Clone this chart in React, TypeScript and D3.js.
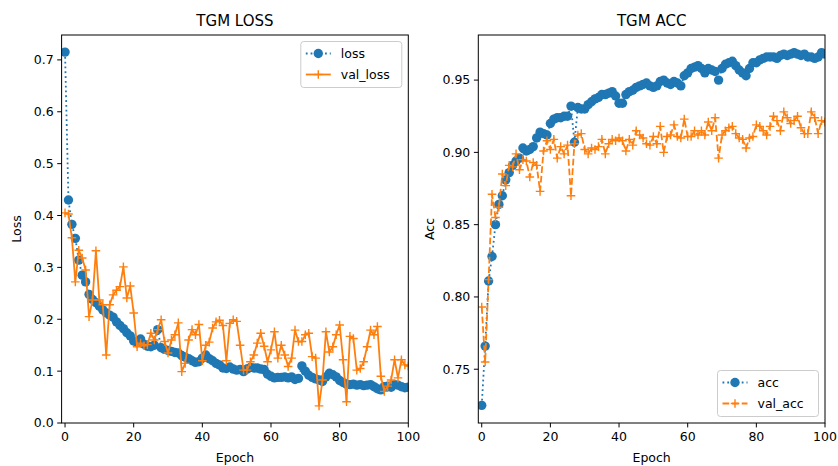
import * as d3 from 'd3';

// epochs 0..100
const epochs = d3.range(0, 101);

const loss = [
  0.715, 0.43, 0.383, 0.356, 0.314, 0.285, 0.272, 0.248, 0.238, 0.232,
  0.225, 0.218, 0.212, 0.208, 0.204, 0.195, 0.188, 0.182, 0.174, 0.168,
  0.158, 0.156, 0.162, 0.152, 0.148, 0.147, 0.150, 0.180, 0.145, 0.142,
  0.140, 0.138, 0.136, 0.135, 0.130, 0.127, 0.124, 0.120, 0.117, 0.118,
  0.125, 0.131, 0.124, 0.120, 0.115, 0.112, 0.106, 0.105, 0.108, 0.104,
  0.102, 0.103, 0.099, 0.104, 0.107, 0.106, 0.106, 0.104, 0.103, 0.094,
  0.090, 0.087, 0.088, 0.088, 0.089, 0.087, 0.089, 0.084, 0.086, 0.110,
  0.100, 0.092, 0.088, 0.085, 0.083, 0.080, 0.089, 0.096, 0.093, 0.089,
  0.082, 0.078, 0.075, 0.074, 0.075, 0.073, 0.074, 0.072, 0.073, 0.074,
  0.070, 0.066, 0.064, 0.070, 0.071, 0.069, 0.074, 0.073, 0.070, 0.068,
  0.069,
];

const valLoss = [
  0.405, 0.403, 0.357, 0.272, 0.333, 0.318, 0.295, 0.205, 0.237, 0.332,
  0.237, 0.228, 0.131, 0.228, 0.247, 0.256, 0.263, 0.301, 0.241, 0.264,
  0.212, 0.147, 0.154, 0.149, 0.151, 0.173, 0.160, 0.180, 0.199, 0.157,
  0.135, 0.160, 0.170, 0.193, 0.099, 0.115, 0.160, 0.180, 0.170, 0.190,
  0.120, 0.150, 0.156, 0.183, 0.195, 0.198, 0.188, 0.120, 0.192, 0.199,
  0.196, 0.150, 0.102, 0.102, 0.118, 0.131, 0.154, 0.173, 0.148, 0.118,
  0.141, 0.176, 0.125, 0.150, 0.131, 0.109, 0.125, 0.179, 0.157, 0.157,
  0.170, 0.173, 0.128, 0.125, 0.033, 0.083, 0.176, 0.137, 0.147, 0.170,
  0.189, 0.122, 0.041, 0.167, 0.163, 0.102, 0.105, 0.118, 0.147, 0.179,
  0.170, 0.186, 0.090, 0.061, 0.071, 0.083, 0.122, 0.087, 0.122, 0.112,
  0.110,
];

const acc = [
  0.725, 0.766, 0.811, 0.828, 0.850, 0.864, 0.870, 0.881, 0.886, 0.891,
  0.894, 0.896, 0.903, 0.901, 0.902, 0.904, 0.910, 0.914, 0.913, 0.912,
  0.920, 0.923, 0.924, 0.924, 0.925, 0.925, 0.932, 0.907, 0.931, 0.930,
  0.930, 0.933, 0.935, 0.937, 0.938, 0.940, 0.940, 0.941, 0.942, 0.939,
  0.934, 0.934, 0.940, 0.942, 0.943, 0.945, 0.946, 0.947, 0.948, 0.946,
  0.945, 0.946, 0.949, 0.950, 0.948, 0.947, 0.949, 0.948, 0.946, 0.953,
  0.955, 0.958, 0.959, 0.960, 0.958, 0.955, 0.958, 0.957, 0.956, 0.950,
  0.958, 0.961, 0.962, 0.963, 0.960, 0.957, 0.955, 0.953, 0.958, 0.962,
  0.962, 0.964, 0.965, 0.966, 0.966, 0.966, 0.965, 0.967, 0.968, 0.967,
  0.968, 0.969, 0.968, 0.967, 0.968, 0.966, 0.966, 0.965, 0.966, 0.969,
  0.968,
];

const valAcc = [
  0.793, 0.755, 0.812, 0.871, 0.855, 0.862, 0.885, 0.877, 0.891, 0.890,
  0.899, 0.888, 0.895, 0.894, 0.883, 0.893, 0.891, 0.873, 0.901, 0.908,
  0.902, 0.909, 0.896, 0.904, 0.899, 0.905, 0.870, 0.906, 0.912, 0.913,
  0.902, 0.899, 0.903, 0.902, 0.904, 0.909, 0.899, 0.906, 0.909, 0.908,
  0.910, 0.908, 0.901, 0.909, 0.905, 0.915, 0.912, 0.910, 0.906, 0.905,
  0.911, 0.906, 0.918, 0.900, 0.911, 0.912, 0.919, 0.911, 0.910, 0.923,
  0.911, 0.911, 0.915, 0.912, 0.915, 0.912, 0.921, 0.915, 0.924, 0.896,
  0.912, 0.915, 0.917, 0.918, 0.913, 0.910, 0.909, 0.903, 0.910, 0.911,
  0.919, 0.918, 0.915, 0.912, 0.918, 0.925, 0.922, 0.915, 0.928, 0.924,
  0.920, 0.922, 0.925, 0.917, 0.913, 0.913, 0.928, 0.924, 0.913, 0.922,
  0.921,
];

const epochTicks = [0, 20, 40, 60, 80, 100];
const lossTicks = [0.0, 0.1, 0.2, 0.3, 0.4, 0.5, 0.6, 0.7];
const accTicks = [0.75, 0.8, 0.85, 0.9, 0.95];

const BLUE = '#1f77b4';
const ORANGE = '#ff7f0e';
const FONT = 'DejaVu Sans, sans-serif';

const top = 35, bottom = 423;

const Marker = ({ kind, x, y, color }) => {
  if (kind === 'circle') {
    return <circle cx={x} cy={y} r={4.7} fill={color} />;
  }
  return (
    <g stroke={color} strokeWidth={1.4}>
      <line x1={x - 4.3} x2={x + 4.3} y1={y} y2={y} />
      <line x1={x} x2={x} y1={y - 4.3} y2={y + 4.3} />
    </g>
  );
};

const Panel = ({ left, right, yDomain, yTicks, fmt, title, ylabel, series, legend }) => {
  const x = d3.scaleLinear().domain([-1, 100]).range([left, right]);
  const y = d3.scaleLinear().domain(yDomain).range([bottom, top]);
  const cx = (left + right) / 2;

  // legend box
  const lw = 101, lh = 46;
  const lx = right - 6.5 - lw;
  const ly = legend === 'upper' ? top + 6.5 : bottom - 6.5 - lh;

  return (
    <g fontFamily={FONT}>
      <defs>
        <clipPath id={'clip' + left}>
          <rect x={left} y={top} width={right - left} height={bottom - top} />
        </clipPath>
      </defs>
      <text x={cx} y={top - 9} textAnchor="middle" fontSize={15}>{title}</text>

      <g clipPath={`url(#clip${left})`}>
        {series.map((s) => {
          const line = d3.line().x((d, i) => x(epochs[i])).y((d) => y(d));
          return (
            <g key={s.name}>
              <path d={line(s.values)} fill="none" stroke={s.color} strokeWidth={1.8}
                strokeDasharray={s.dash} />
              {s.values.map((v, i) => (
                <Marker key={i} kind={s.marker} x={x(epochs[i])} y={y(v)} color={s.color} />
              ))}
            </g>
          );
        })}
      </g>

      <rect x={left} y={top} width={right - left} height={bottom - top}
        fill="none" stroke="#000" strokeWidth={1} />

      {epochTicks.map((t) => (
        <g key={t} transform={`translate(${x(t)},${bottom})`}>
          <line y2={4.4} stroke="#000" />
          <text y={18} textAnchor="middle" fontSize={12.5}>{t}</text>
        </g>
      ))}
      {yTicks.map((t) => (
        <g key={t} transform={`translate(${left},${y(t)})`}>
          <line x2={-4.4} stroke="#000" />
          <text x={-8} dy="0.35em" textAnchor="end" fontSize={12.5}>{fmt(t)}</text>
        </g>
      ))}

      <text x={cx} y={bottom + 39} textAnchor="middle" fontSize={12.5}>Epoch</text>
      <text transform={`translate(${left - (ylabel === 'Loss' ? 41 : 44)},${(top + bottom) / 2}) rotate(-90)`}
        textAnchor="middle" fontSize={12.5}>{ylabel}</text>

      <g transform={`translate(${lx},${ly})`}>
        <rect width={lw} height={lh} rx={3} fill="#fff" fillOpacity={0.8} stroke="#cccccc" />
        {series.map((s, i) => {
          const yy = 12 + i * 21;
          return (
            <g key={s.name}>
              <line x1={5} x2={30} y1={yy} y2={yy} stroke={s.color} strokeWidth={1.8}
                strokeDasharray={s.dash} />
              <Marker kind={s.marker} x={17.5} y={yy} color={s.color} />
              <text x={40} y={yy} dy="0.35em" fontSize={12.5}>{s.name}</text>
            </g>
          );
        })}
      </g>
    </g>
  );
};

export default function App() {
  const f1 = d3.format('.1f');
  const f2 = d3.format('.2f');
  return (
    <svg width={838} height={466} style={{ position: 'absolute', left: 0, top: 0, background: '#fff' }}>
      <rect width={838} height={466} fill="#fff" />
      <Panel left={61.6} right={408.3} yDomain={[0, 0.748]} yTicks={lossTicks} fmt={f1}
        title="TGM LOSS" ylabel="Loss" legend="upper"
        series={[
          { name: 'loss', values: loss, color: BLUE, marker: 'circle', dash: '1.8,3' },
          { name: 'val_loss', values: valLoss, color: ORANGE, marker: 'plus', dash: null },
        ]} />
      <Panel left={478.3} right={825} yDomain={[0.7128, 0.9812]} yTicks={accTicks} fmt={f2}
        title="TGM ACC" ylabel="Acc" legend="lower"
        series={[
          { name: 'acc', values: acc, color: BLUE, marker: 'circle', dash: '1.8,3' },
          { name: 'val_acc', values: valAcc, color: ORANGE, marker: 'plus', dash: '6.7,2.9' },
        ]} />
    </svg>
  );
}
